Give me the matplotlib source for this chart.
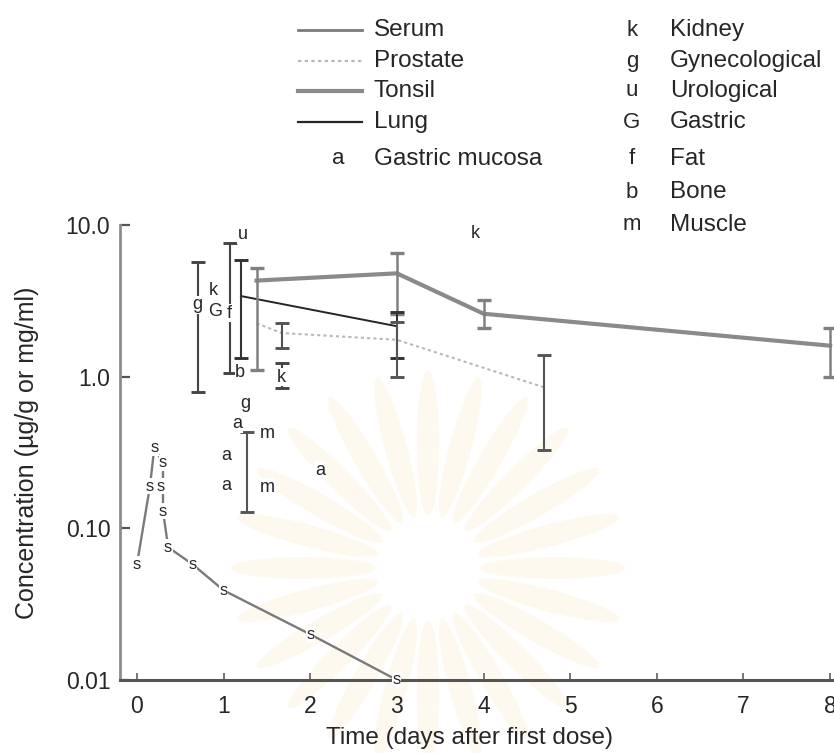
import matplotlib
matplotlib.use("Agg")
import matplotlib.pyplot as plt
import numpy as np
from matplotlib.lines import Line2D
from matplotlib.patches import Ellipse, Circle

plt.rcParams['font.family'] = ['Liberation Sans', 'DejaVu Sans']

# serum levels (s) along the curve, days after first dose
serum_t = [0.0, 0.15, 0.2, 0.3, 0.3, 0.36, 0.64, 1.0, 2.0, 3.0]
serum_v = [0.058, 0.19, 0.34, 0.27, 0.13, 0.075, 0.058, 0.039, 0.020, 0.010]
serum_extra_t = [0.27]
serum_extra_v = [0.19]

# tonsil, lung and prostate means with error ranges
tonsil_t = [1.38, 3.0, 4.0, 8.0]
tonsil_v = [4.3, 4.8, 2.6, 1.6]
tonsil_lo = [1.1, 2.6, 2.1, 0.99]
tonsil_hi = [5.2, 6.5, 3.2, 2.1]

lung_t = [1.2, 3.0]
lung_v = [3.4, 2.15]
lung_lo = [1.33, 1.33]
lung_hi = [5.9, 2.65]

prostate_t = [1.38, 1.67, 3.0, 4.7]
prostate_v = [2.25, 1.94, 1.75, 0.85]
prostate_lo = [2.25, 1.55, 0.99, 0.33]
prostate_hi = [2.25, 2.25, 2.3, 1.39]
prostate_bars = [1, 2, 3]

# single tissue samples marked by letter
tissue_code = ['g', 'k', 'G', 'f', 'u', 'b', 'k', 'k', 'a', 'a', 'g', 'a', 'a', 'm', 'm']
tissue_t = [0.70, 0.88, 0.90, 1.07, 1.22, 1.19, 1.67, 3.9, 2.11, 1.16, 1.25, 1.03, 1.03, 1.50, 1.50]
tissue_v = [2.97, 3.72, 2.67, 2.62, 8.6, 1.06, 0.99, 8.85, 0.242, 0.49, 0.67, 0.30, 0.193, 0.42, 0.187]
tissue_bars = {0: (0.79, 5.7), 3: (1.06, 7.6), 6: (0.84, 1.23)}

# pooled muscle range
muscle_t = [1.27]
muscle_v = [0.235]
muscle_lo = [0.128]
muscle_hi = [0.43]

yticks = [0.01, 0.1, 1.0, 10.0]
ytick_labels = ['0.01', '0.10', '1.0', '10.0']
xticks = list(range(9))

ink = '#262626'
W, H = 834.0, 753.0

fig = plt.figure(figsize=(8.34, 7.53), dpi=100)

# faint emblem printed behind the chart (pixel units -> inches)
cx, cy = 428 / 100, (H - 568) / 100
for ang in np.arange(0, 360, 15):
    a = np.deg2rad(ang)
    r = 1.25
    fig.add_artist(Ellipse((cx + r * np.cos(a), cy + r * np.sin(a)), 1.45, 0.22,
                           angle=ang, transform=fig.dpi_scale_trans,
                           fc='#fdf9ee', ec='none', zorder=0))
fig.add_artist(Circle((cx, cy), 0.48, transform=fig.dpi_scale_trans,
                      fc='white', ec='none', zorder=0.5))

ax = fig.add_axes([120 / W, 73 / H, 714 / W, 455 / H])
ax.patch.set_alpha(0)
ax.set_yscale('log')
ax.set_xlim(-0.196, 8.045)
ax.set_ylim(0.01, 10.0)


def bars(t, v, lo, hi, color, lw=1.5, cap=5):
    err = [[vv - l for vv, l in zip(v, lo)], [h - vv for vv, h in zip(v, hi)]]
    ax.errorbar(t, v, yerr=err, fmt='none', ecolor=color, elinewidth=lw,
                capsize=cap, capthick=lw + 0.6, zorder=3)


# curves
ax.plot(serum_t, serum_v, color='#7a7a7a', lw=1.7, zorder=2)
ax.plot(tonsil_t, tonsil_v, color='#8a8a8a', lw=3.0, zorder=2)
ax.plot(lung_t, lung_v, color='#262626', lw=1.4, zorder=2)
ax.plot(prostate_t, prostate_v, color='#b8b8b8', lw=1.5, ls=(0, (1.5, 1.5)), zorder=2)

bars(tonsil_t, tonsil_v, tonsil_lo, tonsil_hi, '#808080', lw=1.8)
bars(lung_t, lung_v, lung_lo, lung_hi, '#333333')
bars([prostate_t[i] for i in prostate_bars], [prostate_v[i] for i in prostate_bars],
     [prostate_lo[i] for i in prostate_bars], [prostate_hi[i] for i in prostate_bars], '#555555')
for i, (lo, hi) in tissue_bars.items():
    bars([tissue_t[i]], [tissue_v[i]], [lo], [hi], '#444444')
bars(muscle_t, muscle_v, muscle_lo, muscle_hi, '#555555')

# letter markers
for t, v in zip(serum_t + serum_extra_t, serum_v + serum_extra_v):
    ax.text(t, v, 's', fontsize=12, color=ink, ha='center', va='center',
            zorder=4, bbox=dict(boxstyle='square,pad=0.02', fc='white', ec='none'))
for c, t, v in zip(tissue_code, tissue_t, tissue_v):
    ax.text(t, v, c, fontsize=13, color=ink, ha='center', va='center',
            zorder=4, bbox=dict(boxstyle='square,pad=0.02', fc='white', ec='none'))

# axes styling
for side in ['top', 'right']:
    ax.spines[side].set_visible(False)
ax.spines['left'].set_color('#8c8c8c')
ax.spines['left'].set_linewidth(2.0)
ax.spines['bottom'].set_color('#555555')
ax.spines['bottom'].set_linewidth(2.2)
ax.set_yticks(yticks)
ax.set_yticklabels(ytick_labels)
ax.yaxis.set_minor_locator(matplotlib.ticker.NullLocator())
ax.set_xticks(xticks)
ax.tick_params(axis='y', direction='in', length=7, width=1.6, color='#555555',
               labelsize=16.5, labelcolor=ink, pad=7)
ax.tick_params(axis='x', direction='in', length=5, width=1.4, color='#777777',
               labelsize=16.5, labelcolor=ink, pad=11)

ax.set_xlabel('Time (days after first dose)', fontsize=17.5, color=ink)
ax.xaxis.set_label_coords(0.49, -0.103)
ax.set_ylabel('Concentration (\u00b5g/g or mg/ml)', fontsize=18, color=ink)
ax.yaxis.set_label_coords(-0.113, 0.5)

# key, laid out in two columns above the plot
left_rows = [30, 61, 91, 122]
line_names = ['Serum', 'Prostate', 'Tonsil', 'Lung']
line_styles = [dict(color='#7a7a7a', lw=2.0),
               dict(color='#b8b8b8', lw=1.6, ls=(0, (1.5, 1.5))),
               dict(color='#8a8a8a', lw=3.0),
               dict(color='#262626', lw=1.6)]
for y, name, st in zip(left_rows, line_names, line_styles):
    fig.add_artist(Line2D([298 / W, 362 / W], [1 - y / H, 1 - y / H],
                          transform=fig.transFigure, **st))
    fig.text(374 / W, 1 - y / H, name, fontsize=17.5, color=ink, va='center')
fig.text(338 / W, 1 - 159 / H, 'a', fontsize=16, color=ink, va='center', ha='center')
fig.text(374 / W, 1 - 159 / H, 'Gastric mucosa', fontsize=17.5, color=ink, va='center')

right_rows = [30, 61, 91, 122, 159, 192, 225]
key_codes = ['k', 'g', 'u', 'G', 'f', 'b', 'm']
key_names = ['Kidney', 'Gynecological', 'Urological', 'Gastric', 'Fat', 'Bone', 'Muscle']
for y, c, name in zip(right_rows, key_codes, key_names):
    fig.text(632 / W, 1 - y / H, c, fontsize=16, color=ink, va='center', ha='center')
    fig.text(670 / W, 1 - y / H, name, fontsize=17.5, color=ink, va='center')

fig.savefig('out.png', dpi=100, facecolor='white')
